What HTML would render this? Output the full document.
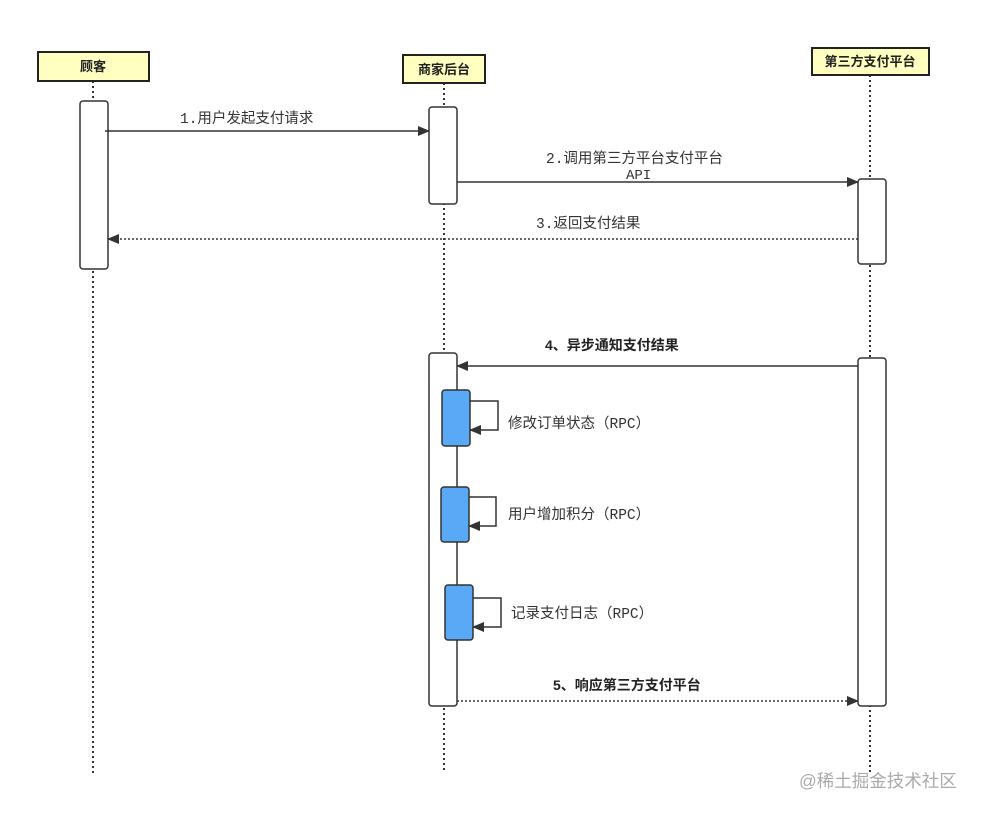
<!DOCTYPE html>
<html><head><meta charset="utf-8"><style>
html,body{margin:0;padding:0;background:#fff;}
svg{display:block;}
text{font-family:"Liberation Mono","Noto Sans CJK SC",monospace;fill:#333;}
.b{font-family:"Liberation Sans","Noto Sans CJK SC",sans-serif;font-weight:bold;fill:#222;}
</style></head><body>
<svg width="982" height="813" viewBox="0 0 982 813" xmlns="http://www.w3.org/2000/svg">
<defs>
<marker id="a" markerWidth="12" markerHeight="10" refX="11" refY="5" orient="auto" markerUnits="userSpaceOnUse"><path d="M0,0 L12,5 L0,10 Z" fill="#333"/></marker>
</defs>
<g stroke="#333" stroke-width="2" stroke-dasharray="2,3">
<line x1="93" y1="81" x2="93" y2="773"/>
<line x1="444" y1="83" x2="444" y2="773"/>
<line x1="870" y1="75" x2="870" y2="773"/>
</g>
<g stroke="#222" stroke-width="2" fill="#ffffc0">
<rect x="38" y="52" width="111" height="29"/>
<rect x="403" y="55" width="82" height="28"/>
<rect x="812" y="48" width="117" height="27"/>
</g>
<text class="b" x="93" y="71" font-size="13" text-anchor="middle">顾客</text>
<text class="b" x="444" y="74" font-size="13" text-anchor="middle">商家后台</text>
<text class="b" x="870" y="66" font-size="13" text-anchor="middle">第三方支付平台</text>
<g stroke="#333" stroke-width="1.5" fill="#fff">
<rect x="80" y="101" width="28" height="168" rx="3"/>
<rect x="429" y="107" width="28" height="97" rx="3"/>
<rect x="858" y="179" width="28" height="85" rx="3"/>
<rect x="429" y="353" width="28" height="353" rx="3"/>
<rect x="858" y="358" width="28" height="348" rx="3"/>
</g>
<g stroke="#333" stroke-width="1.5" fill="none">
<line x1="105" y1="131" x2="429" y2="131" marker-end="url(#a)"/>
<line x1="457" y1="182" x2="858" y2="182" marker-end="url(#a)"/>
<line x1="858" y1="239" x2="108" y2="239" stroke-dasharray="2,2" marker-end="url(#a)"/>
<line x1="858" y1="366" x2="457" y2="366" marker-end="url(#a)"/>
<line x1="457" y1="701" x2="858" y2="701" stroke-dasharray="2,2" marker-end="url(#a)"/>
<path d="M470,401 H498 V430 H470" marker-end="url(#a)"/>
<path d="M469,497 H496 V526 H469" marker-end="url(#a)"/>
<path d="M473,598 H501 V627 H473" marker-end="url(#a)"/>
</g>
<g stroke="#333" stroke-width="1.5" fill="#5aa9f7">
<rect x="442" y="390" width="28" height="56" rx="3"/>
<rect x="441" y="487" width="28" height="55" rx="3"/>
<rect x="445" y="585" width="28" height="55" rx="3"/>
</g>
<text x="180" y="123" font-size="14.5">1.用户发起支付请求</text>
<text x="546" y="163" font-size="14.5">2.调用第三方平台支付平台</text>
<text x="626" y="179" font-size="14">API</text>
<text x="536" y="228" font-size="14.5">3.返回支付结果</text>
<text class="b" x="545" y="350" font-size="14">4、异步通知支付结果</text>
<text x="508" y="428" font-size="14.5">修改订单状态（RPC）</text>
<text x="508" y="519" font-size="14.5">用户增加积分（RPC）</text>
<text x="511" y="618" font-size="14.5">记录支付日志（RPC）</text>
<text class="b" x="553" y="690" font-size="14">5、响应第三方支付平台</text>
<text x="799" y="787" font-size="17.5" style="font-family:'Liberation Sans','Noto Sans CJK SC',sans-serif;fill:#aaa">@稀土掘金技术社区</text>
</svg>
</body></html>
